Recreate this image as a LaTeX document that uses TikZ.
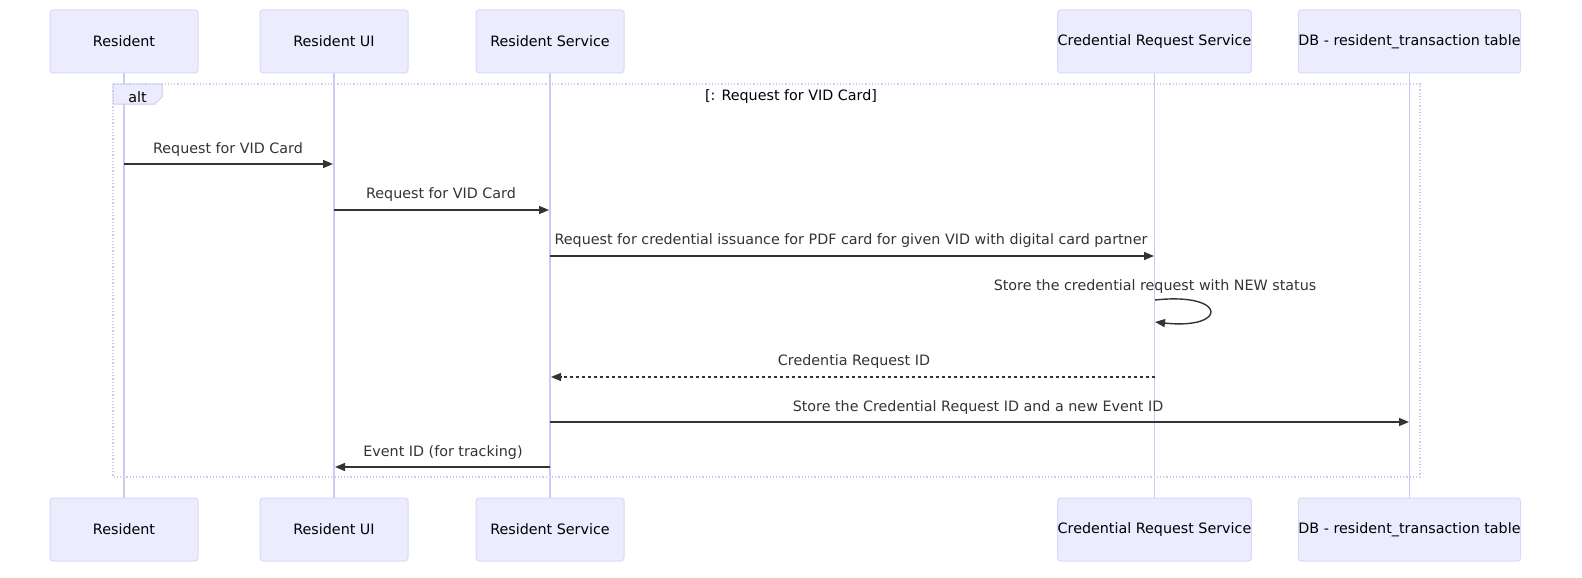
\documentclass[tikz,border=0pt]{standalone}
\usepackage{fontspec}
\setmainfont{DejaVu Sans}
\usetikzlibrary{arrows.meta}
\definecolor{boxfill}{HTML}{ECECFF}
\definecolor{boxline}{HTML}{DCD8F8}
\definecolor{lifeline}{HTML}{CFC8F2}
\definecolor{msg}{HTML}{333333}
\begin{document}
\begin{tikzpicture}[x=1pt,y=-1pt,
  actor/.style={draw=boxline,fill=boxfill,rounded corners=3pt,line width=1pt,minimum height=63pt,inner sep=0pt,font=\fontsize{14.3}{16}\selectfont},
  life/.style={draw=lifeline,line width=1.5pt},
  msgline/.style={draw=msg,line width=1.4pt,-{Triangle[length=10pt,width=8pt]}},
  msglabel/.style={font=\fontsize{14.3}{16}\selectfont,text=msg,inner sep=0pt}]
\useasboundingbox (0,0) rectangle (1582,578);
% top actors
\node[actor,minimum width=148pt] (t1) at (124,41.5) {Resident};
\node[actor,minimum width=148pt] (t2) at (334,41.5) {Resident UI};
\node[actor,minimum width=148pt] (t3) at (550,41.5) {Resident Service};
\node[actor,minimum width=191pt] (t4) at (1154.5,41.5) {Credential Request Service};
\node[actor,minimum width=217pt] (t5) at (1409.5,41.5) {DB - resident\_transaction table};
% bottom actors
\node[actor,minimum width=148pt] (b1) at (124,529.5) {Resident};
\node[actor,minimum width=148pt] (b2) at (334,529.5) {Resident UI};
\node[actor,minimum width=148pt] (b3) at (550,529.5) {Resident Service};
\node[actor,minimum width=191pt] (b4) at (1154.5,529.5) {Credential Request Service};
\node[actor,minimum width=217pt] (b5) at (1409.5,529.5) {DB - resident\_transaction table};
% lifelines
\draw[life] (t1.south) -- (b1.north);
\draw[life] (t2.south) -- (b2.north);
\draw[life] (t3.south) -- (b3.north);
\draw[life] (t4.south) -- (b4.north);
\draw[life] (t5.south) -- (b5.north);
% alt frame
\draw[draw=lifeline,line width=1.2pt,dotted] (113,84) rectangle (1420,477);
\draw[draw=lifeline,fill=boxfill,line width=1pt] (113,84) -- (162,84) -- (162,97) -- (155,104) -- (113,104) -- cycle;
\node[msglabel,text=black] (altl) at (137.5,97) {alt};
\node[msglabel,text=black] (cond) at (791,97) {[: Request for VID Card]};
% message points
\coordinate (m1a) at (124,164); \coordinate (m1b) at (333,164);
\coordinate (m2a) at (334,210); \coordinate (m2b) at (549,210);
\coordinate (m3a) at (550,256); \coordinate (m3b) at (1154,256);
\coordinate (s1) at (1155,300); \coordinate (s2) at (1155,322);
\coordinate (m5a) at (1155,377); \coordinate (m5b) at (551,377);
\coordinate (m6a) at (550,422); \coordinate (m6b) at (1409,422);
\coordinate (m7a) at (550,467); \coordinate (m7b) at (335,467);
\draw[msgline] (m1a) -- (m1b);
\node[msglabel] (l1) at (228,149.5) {Request for VID Card};
\draw[msgline] (m2a) -- (m2b);
\node[msglabel] (l2) at (441,195) {Request for VID Card};
\draw[msgline] (m3a) -- (m3b);
\node[msglabel] (l3) at (851,241) {Request for credential issuance for PDF card for given VID with digital card partner};
\draw[msgline] (s1) .. controls (1228,292) and (1228,330) .. (s2);
\node[msglabel] (l4) at (1155,286.5) {Store the credential request with NEW status};
\draw[msgline,dash pattern=on 3pt off 3pt] (m5a) -- (m5b);
\node[msglabel] (l5) at (854,361.5) {Credentia Request ID};
\draw[msgline] (m6a) -- (m6b);
\node[msglabel] (l6) at (978,407.5) {Store the Credential Request ID and a new Event ID};
\draw[msgline] (m7a) -- (m7b);
\node[msglabel] (l7) at (443,452.5) {Event ID (for tracking)};
\end{tikzpicture}
\end{document}
